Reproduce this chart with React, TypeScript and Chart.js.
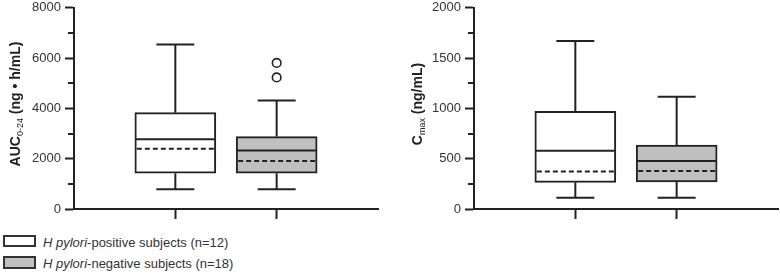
import React, { useEffect, useRef } from 'react';
import { Chart, registerables } from 'chart.js';

Chart.register(...registerables);

// ---- data ----
const groupLabels = ['H pylori-positive subjects (n=12)', 'H pylori-negative subjects (n=18)'];
const groupX = [1, 2];
const boxFills = ['#ffffff', '#c0c0c0'];

// AUC0-24 (ng·h/mL)
const aucMin = [790, 790];
const aucQ1 = [1420, 1420];
const aucMedian = [2770, 2330];
const aucMean = [2400, 1910];
const aucQ3 = [3830, 2880];
const aucMax = [6540, 4310];
const aucOutliers = [[], [5810, 5230]];

// Cmax (ng/mL)
const cmaxMin = [112, 112];
const cmaxQ1 = [265, 270];
const cmaxMedian = [578, 477];
const cmaxMean = [372, 378];
const cmaxQ3 = [970, 635];
const cmaxMax = [1670, 1115];
const cmaxOutliers: number[][] = [[], []];

const FONT = '"Liberation Sans", Arial, Helvetica, sans-serif';
const LINE = '#222222';
const TEXT = '#333333';

const CANVAS_TOP = -4;
const CANVAS_H = 229;

type Stats = {
  min: number[]; q1: number[]; median: number[]; mean: number[]; q3: number[]; max: number[]; outliers: number[][];
};

type TitlePart = { text: string; font: string; dy: number };

function makeChart(
  canvas: HTMLCanvasElement,
  s: Stats,
  yMax: number,
  major: number,
  minor: number,
  yAxisWidth: number,
  padRight: number,
  title: TitlePart[],
  titleX: number,
  titleY: number
) {
  const boxPlugin = {
    id: 'boxExtras',
    afterDatasetsDraw(chart: any) {
      const ctx = chart.ctx;
      const xs = chart.scales.x;
      const ys = chart.scales.y;
      ctx.save();
      ctx.strokeStyle = LINE;
      ctx.lineWidth = 2;
      ctx.lineCap = 'butt';
      groupX.forEach((gx, i) => {
        const cx = xs.getPixelForValue(gx);
        const half = 40.5;
        const cap = 19;
        const line = (x1: number, y1: number, x2: number, y2: number) => {
          ctx.beginPath();
          ctx.moveTo(x1, y1);
          ctx.lineTo(x2, y2);
          ctx.stroke();
        };
        // whiskers
        ctx.setLineDash([]);
        line(cx, ys.getPixelForValue(s.q3[i]), cx, ys.getPixelForValue(s.max[i]));
        line(cx, ys.getPixelForValue(s.q1[i]), cx, ys.getPixelForValue(s.min[i]));
        line(cx - cap, ys.getPixelForValue(s.max[i]), cx + cap, ys.getPixelForValue(s.max[i]));
        line(cx - cap, ys.getPixelForValue(s.min[i]), cx + cap, ys.getPixelForValue(s.min[i]));
        // median
        const my = ys.getPixelForValue(s.median[i]);
        line(cx - half + 1, my, cx + half - 1, my);
        // mean dashed
        ctx.setLineDash([5, 3]);
        const mn = ys.getPixelForValue(s.mean[i]);
        line(cx - half + 2, mn, cx + half - 2, mn);
        ctx.setLineDash([]);
      });
      ctx.restore();
    },
    afterDraw(chart: any) {
      const ctx = chart.ctx;
      const ys = chart.scales.y;
      const area = chart.chartArea;
      ctx.save();
      // minor ticks
      ctx.strokeStyle = LINE;
      ctx.lineWidth = 2;
      for (let v = minor; v < yMax; v += minor) {
        if (v % major === 0) continue;
        const py = Math.round(ys.getPixelForValue(v));
        ctx.beginPath();
        ctx.moveTo(area.left - 6, py);
        ctx.lineTo(area.left, py);
        ctx.stroke();
      }
      // axis title with subscript
      ctx.translate(titleX, titleY - CANVAS_TOP);
      ctx.rotate(-Math.PI / 2);
      ctx.fillStyle = LINE;
      ctx.textBaseline = 'alphabetic';
      ctx.textAlign = 'left';
      let total = 0;
      const widths = title.map((p) => {
        ctx.font = p.font;
        const w = ctx.measureText(p.text).width;
        total += w;
        return w;
      });
      let x = -total / 2;
      title.forEach((p, i) => {
        ctx.font = p.font;
        ctx.fillText(p.text, x, p.dy);
        x += widths[i];
      });
      ctx.restore();
    },
  };

  const outlierPoints: { x: number; y: number }[] = [];
  s.outliers.forEach((arr, i) => arr.forEach((v) => outlierPoints.push({ x: groupX[i], y: v })));

  return new Chart(canvas, {
    type: 'bar',
    data: {
      datasets: [
        {
          type: 'bar',
          data: groupX.map((gx, i) => ({ x: gx, y: [s.q1[i], s.q3[i]] })) as any,
          backgroundColor: boxFills,
          borderColor: LINE,
          borderWidth: 2,
          borderSkipped: false,
          barThickness: 81,
          grouped: false,
        } as any,
        {
          type: 'scatter',
          data: outlierPoints as any,
          pointRadius: 4.3,
          pointBorderWidth: 1.6,
          pointBackgroundColor: '#ffffff',
          pointBorderColor: LINE,
          showLine: false,
        } as any,
      ],
    },
    options: {
      responsive: false,
      animation: false,
      devicePixelRatio: 1,
      layout: { padding: { top: 0, right: padRight, left: 0, bottom: 0 } },
      plugins: { legend: { display: false }, tooltip: { enabled: false }, title: { display: false } },
      scales: {
        x: {
          type: 'linear',
          min: 0,
          max: 3,
          offset: false,
          afterBuildTicks: (sc: any) => {
            sc.ticks = groupX.map((v) => ({ value: v }));
          },
          afterFit: (sc: any) => {
            sc.height = 16;
          },
          ticks: { callback: () => '', font: { size: 1 } },
          grid: { offset: false, drawOnChartArea: false, drawTicks: true, tickLength: 10, tickWidth: 2, tickColor: LINE },
          border: { color: LINE, width: 2 },
        },
        y: {
          type: 'linear',
          min: 0,
          max: yMax,
          afterFit: (sc: any) => {
            sc.width = yAxisWidth;
          },
          ticks: {
            stepSize: minor,
            autoSkip: false,
            padding: 4,
            color: TEXT,
            font: { family: FONT, size: 13 },
            callback: (v: any) => (Number(v) % major === 0 ? String(v) : ''),
          },
          grid: {
            drawOnChartArea: false,
            tickLength: 9,
            tickWidth: 2,
            tickColor: (c: any) => (c.tick && c.tick.value % major === 0 ? LINE : 'rgba(0,0,0,0)'),
          },
          border: { color: LINE, width: 2 },
        },
      },
    } as any,
    plugins: [boxPlugin],
  });
}

function Panel(props: {
  left: number; stats: Stats; yMax: number; major: number; minor: number; yAxisWidth: number; padRight: number;
  title: TitlePart[]; titleX: number; titleY: number;
}) {
  const ref = useRef<HTMLCanvasElement | null>(null);
  useEffect(() => {
    if (!ref.current) return;
    const ch = makeChart(ref.current, props.stats, props.yMax, props.major, props.minor, props.yAxisWidth,
      props.padRight, props.title, props.titleX, props.titleY);
    return () => ch.destroy();
  }, []);
  return (
    <div style={{ position: 'absolute', left: props.left, top: CANVAS_TOP, width: 390, height: CANVAS_H }}>
      <canvas ref={ref} width={390} height={CANVAS_H} style={{ width: 390, height: CANVAS_H, display: 'block' }} />
    </div>
  );
}

const aucStats: Stats = { min: aucMin, q1: aucQ1, median: aucMedian, mean: aucMean, q3: aucQ3, max: aucMax, outliers: aucOutliers };
const cmaxStats: Stats = { min: cmaxMin, q1: cmaxQ1, median: cmaxMedian, mean: cmaxMean, q3: cmaxQ3, max: cmaxMax, outliers: cmaxOutliers };

const aucTitle: TitlePart[] = [
  { text: 'AUC', font: `bold 14px ${FONT}`, dy: 0 },
  { text: '0-24', font: `9px ${FONT}`, dy: 3 },
  { text: ' (ng • h/mL)', font: `bold 14px ${FONT}`, dy: 0 },
];
const cmaxTitle: TitlePart[] = [
  { text: 'C', font: `bold 14px ${FONT}`, dy: 0 },
  { text: 'max', font: `9px ${FONT}`, dy: 3 },
  { text: ' (ng/mL)', font: `bold 14px ${FONT}`, dy: 0 },
];

function LegendRow(props: { top: number; boxTop: number; boxH: number; fill: string; label: string }) {
  const idx = props.label.indexOf('-');
  const italicPart = props.label.slice(0, idx);
  const rest = props.label.slice(idx);
  return (
    <>
      <div
        style={{
          position: 'absolute', left: 3, top: props.boxTop, width: 33, height: props.boxH,
          boxSizing: 'border-box', border: '2px solid #333', background: props.fill,
        }}
      />
      <div
        style={{
          position: 'absolute', left: 43, top: props.top, fontFamily: FONT, fontSize: 13, lineHeight: '15px',
          color: TEXT, whiteSpace: 'nowrap',
        }}
      >
        <i>{italicPart}</i>{rest}
      </div>
    </>
  );
}

export default function App() {
  return (
    <div style={{ position: 'fixed', left: 0, top: 0, width: 780, height: 273, background: '#fff', overflow: 'hidden' }}>
      <Panel left={0} stats={aucStats} yMax={8000} major={2000} minor={1000} yAxisWidth={74} padRight={12}
        title={aucTitle} titleX={20} titleY={104} />
      <Panel left={390} stats={cmaxStats} yMax={2000} major={500} minor={250} yAxisWidth={84} padRight={2}
        title={cmaxTitle} titleX={32} titleY={104} />
      <LegendRow top={235} boxTop={235} boxH={12} fill={boxFills[0]} label={groupLabels[0]} />
      <LegendRow top={256} boxTop={256} boxH={13} fill={boxFills[1]} label={groupLabels[1]} />
    </div>
  );
}
